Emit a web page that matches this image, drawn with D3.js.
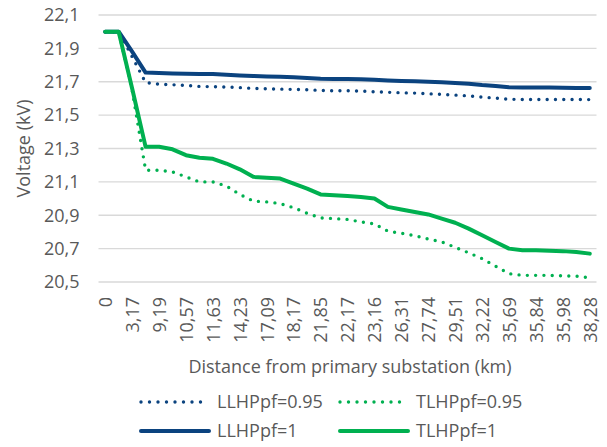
<!DOCTYPE html>
<html>
  <head>
    <title>Voltage profile</title>
    <style type="text/css">
        body{
            margin: 0;
            background: #ffffff;
        }
        text{
            font-family: "Open Sans", sans-serif;
            fill: #595959;
        }
        .grid line{
            stroke: #d9d9d9;
            stroke-width: 1.3px;
        }
        .series{
            fill: none;
            stroke-linejoin: round;
            stroke-linecap: round;
        }
    </style>
  </head>
  <body>
    <div id="chart"></div>

    <script src="https://cdn.jsdelivr.net/npm/d3@7"></script>
    <script>
        var width = 607, height = 447;

        //  Distance labels (km); only every second one is printed on the axis
        var distances = ["0", "1,52", "3,17", "5,86", "9,19", "9,88", "10,57", "11,10", "11,63", "12,91",
                         "14,23", "15,40", "17,09", "17,62", "18,17", "19,94", "21,85", "22,01", "22,17", "22,63",
                         "23,16", "24,85", "26,31", "27,02", "27,74", "28,60", "29,51", "30,86", "32,22", "33,95",
                         "35,69", "35,77", "35,84", "35,91", "35,98", "37,10", "38,28"];

        var llhp095 = [22.0, 22.0, 21.85, 21.695, 21.685, 21.682, 21.678, 21.672, 21.67, 21.668,
                       21.665, 21.66, 21.658, 21.656, 21.654, 21.652, 21.648, 21.646, 21.646, 21.644,
                       21.64, 21.637, 21.634, 21.632, 21.628, 21.624, 21.62, 21.615, 21.608, 21.602,
                       21.595, 21.594, 21.594, 21.594, 21.594, 21.594, 21.593];

        var tlhp095 = [22.0, 22.0, 21.65, 21.17, 21.17, 21.16, 21.13, 21.10, 21.10, 21.075,
                       21.025, 20.985, 20.98, 20.97, 20.945, 20.912, 20.884, 20.88, 20.875, 20.86,
                       20.848, 20.805, 20.792, 20.778, 20.757, 20.74, 20.708, 20.675, 20.64, 20.595,
                       20.55, 20.54, 20.54, 20.54, 20.537, 20.535, 20.525];

        var llhp1 = [22.0, 22.0, 21.88, 21.755, 21.753, 21.75, 21.748, 21.747, 21.746, 21.742,
                     21.738, 21.735, 21.732, 21.73, 21.727, 21.723, 21.718, 21.716, 21.716, 21.715,
                     21.712, 21.708, 21.705, 21.703, 21.70, 21.697, 21.693, 21.688, 21.68, 21.675,
                     21.667, 21.666, 21.666, 21.665, 21.664, 21.663, 21.662];

        var tlhp1 = [22.0, 22.0, 21.66, 21.31, 21.31, 21.295, 21.26, 21.245, 21.238, 21.21,
                     21.175, 21.13, 21.125, 21.12, 21.09, 21.06, 21.025, 21.02, 21.015, 21.01,
                     21.0, 20.95, 20.935, 20.92, 20.905, 20.88, 20.855, 20.82, 20.78, 20.74,
                     20.70, 20.69, 20.69, 20.688, 20.685, 20.68, 20.67];

        var yTicks = [20.5, 20.7, 20.9, 21.1, 21.3, 21.5, 21.7, 21.9, 22.1];

        var series = [
            {name: "LLHPpf=0.95", values: llhp095, color: "#0b437f", dotted: true},
            {name: "TLHPpf=0.95", values: tlhp095, color: "#00b050", dotted: true},
            {name: "LLHPpf=1", values: llhp1, color: "#0b437f", dotted: false},
            {name: "TLHPpf=1", values: tlhp1, color: "#00b050", dotted: false}
        ];

        var plotLeft = 98.5, plotRight = 596.5, plotTop = 15, plotBottom = 282;

        var svg = d3.select("#chart").append("svg")
            .attr("width", width)
            .attr("height", height);

        var x = d3.scalePoint()
            .domain(distances)
            .range([plotLeft, plotRight])
            .padding(0.5);

        var y = d3.scaleLinear()
            .domain([20.5, 22.1])
            .range([plotBottom, plotTop]);

        var comma = function(v){ return d3.format(".1f")(v).replace(".", ","); };

        //  Horizontal gridlines
        svg.append("g")
            .attr("class", "grid")
            .selectAll("line")
            .data(yTicks)
            .enter().append("line")
                .attr("x1", plotLeft)
                .attr("x2", plotRight)
                .attr("y1", d => y(d))
                .attr("y2", d => y(d));

        //  Y axis labels
        var yAxis = svg.append("g")
            .attr("transform", "translate(" + plotLeft + ",0)")
            .call(d3.axisLeft(y).tickValues(yTicks).tickFormat(comma).tickSize(0).tickPadding(19));
        yAxis.select(".domain").remove();
        yAxis.selectAll("text")
            .style("font-size", "18px")
            .attr("fill", "#595959");

        //  X axis labels, rotated, every second category
        var xAxis = svg.append("g")
            .attr("transform", "translate(0," + plotBottom + ")")
            .call(d3.axisBottom(x)
                .tickValues(distances.filter((d, i) => i % 2 === 0))
                .tickSize(0));
        xAxis.select(".domain").remove();
        xAxis.selectAll("text")
            .style("font-size", "18px")
            .attr("fill", "#595959")
            .attr("text-anchor", "end")
            .attr("dy", "0.35em")
            .attr("transform", "translate(0,15) rotate(-90)")
            .attr("x", 0)
            .attr("y", 0);

        //  Axis titles
        svg.append("text")
            .attr("x", 350)
            .attr("y", 373)
            .attr("text-anchor", "middle")
            .style("font-size", "18px")
            .text("Distance from primary substation (km)");

        svg.append("text")
            .attr("transform", "translate(30," + ((plotTop + plotBottom) / 2) + ") rotate(-90)")
            .attr("text-anchor", "middle")
            .style("font-size", "18px")
            .text("Voltage (kV)");

        //  Series lines
        var line = d3.line()
            .x((d, i) => x(distances[i]))
            .y(d => y(d));

        svg.append("g")
            .selectAll("path")
            .data(series)
            .enter().append("path")
                .attr("class", "series")
                .attr("d", d => line(d.values))
                .attr("stroke", d => d.color)
                .attr("stroke-width", d => d.dotted ? 3.4 : 4)
                .attr("stroke-dasharray", d => d.dotted ? "0 8.3" : null);

        //  Legend, two columns by two rows
        var legend = svg.append("g")
            .selectAll("g")
            .data(series)
            .enter().append("g")
                .attr("transform", (d, i) => "translate(" + (i % 2 === 0 ? 141 : 340) + "," + (i < 2 ? 402 : 431) + ")");

        legend.append("line")
            .attr("class", "series")
            .attr("x1", 0)
            .attr("x2", 68)
            .attr("stroke", d => d.color)
            .attr("stroke-width", d => d.dotted ? 3.4 : 4)
            .attr("stroke-dasharray", d => d.dotted ? "0 8.5" : null);

        legend.append("text")
            .attr("x", 76)
            .attr("dy", "0.35em")
            .style("font-size", "18px")
            .text(d => d.name);
    </script>
  </body>
</html>
